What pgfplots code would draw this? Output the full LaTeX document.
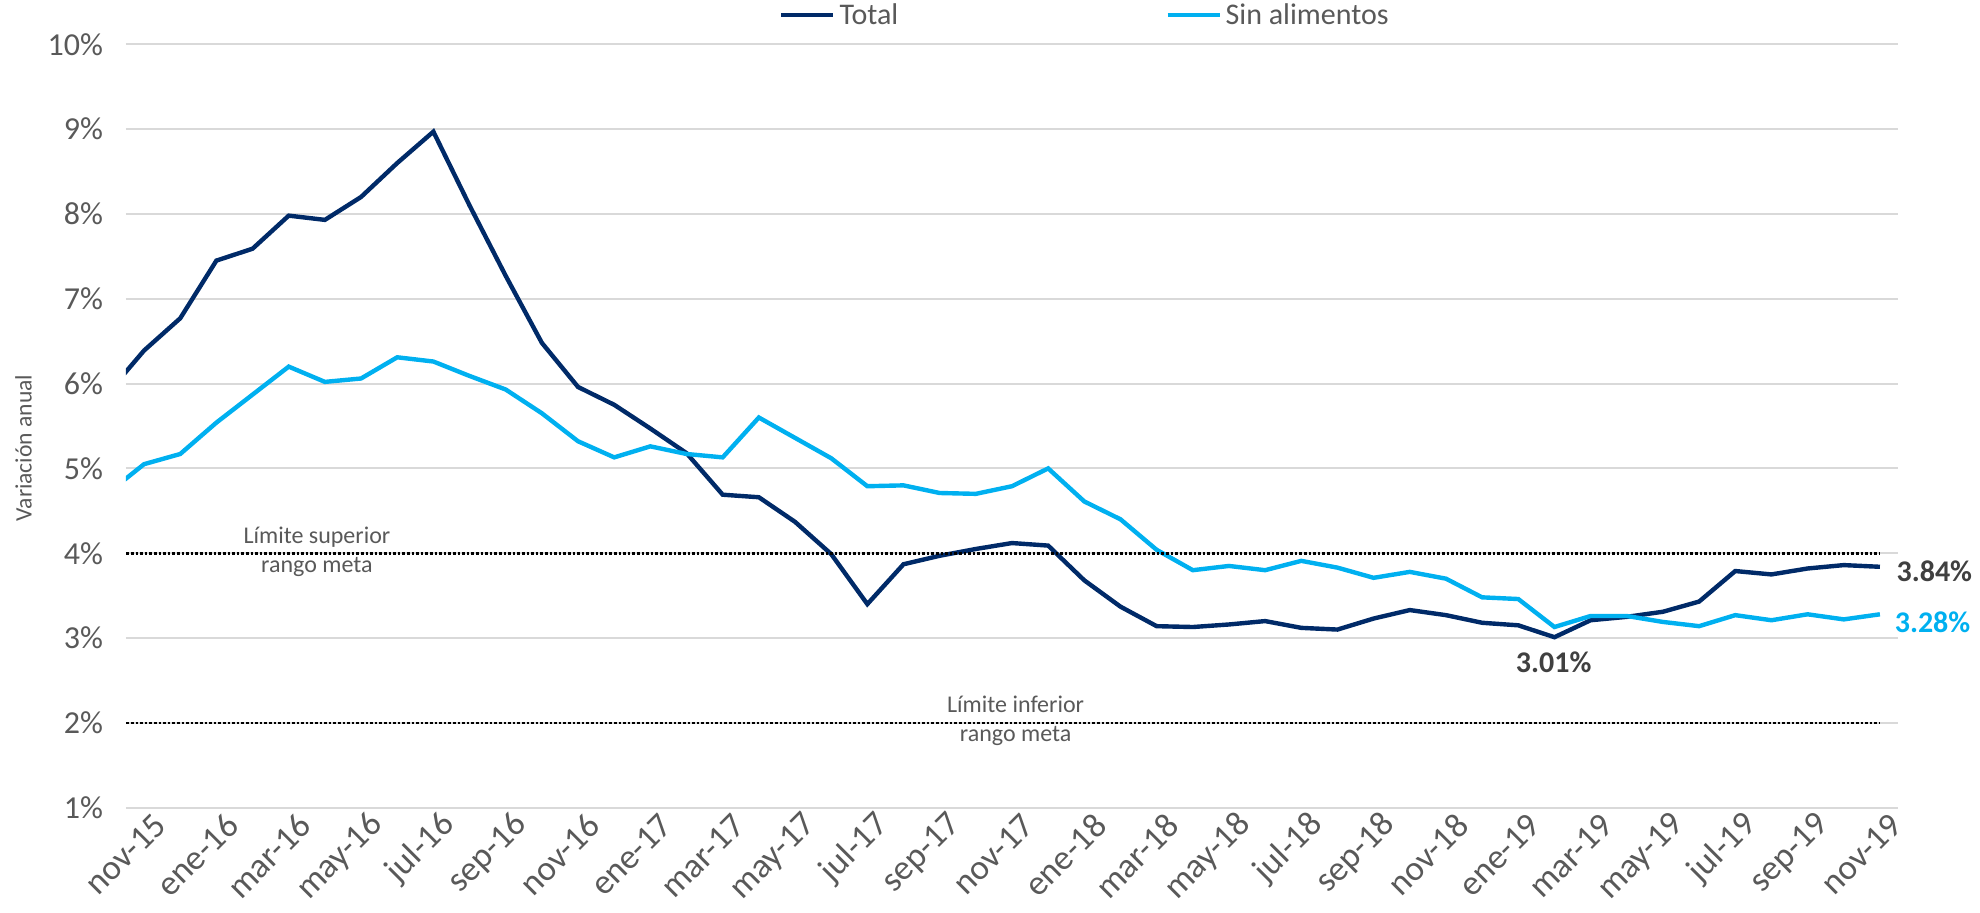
\documentclass[border=0pt]{standalone}
\usepackage{fontspec}
\setmainfont{Carlito}
\usepackage{pgfplots}
\pgfplotsset{compat=1.18}
\definecolor{navy}{RGB}{0,42,104}
\definecolor{sky}{RGB}{0,176,240}
\definecolor{txtgray}{RGB}{89,89,89}
\definecolor{lblgray}{RGB}{64,64,64}
\definecolor{gridgray}{RGB}{217,217,217}
\begin{document}
\begin{tikzpicture}
\begin{axis}[
    name=ax,
    scale only axis,
    width=886pt, height=381.7pt,
    xmin=-0.5, xmax=48.5, ymin=1, ymax=10,
    clip mode=individual,
    axis line style={draw=none},
    major tick length=0pt,
    ymajorgrids,
    grid style={gridgray, line width=1pt},
    ytick={1,...,10},
    yticklabels={1\%,2\%,3\%,4\%,5\%,6\%,7\%,8\%,9\%,10\%},
    xtick={0,2,...,48},
    xticklabels={nov-15,ene-16,mar-16,may-16,jul-16,sep-16,nov-16,ene-17,mar-17,may-17,jul-17,sep-17,nov-17,ene-18,mar-18,may-18,jul-18,sep-18,nov-18,ene-19,mar-19,may-19,jul-19,sep-19,nov-19},
    tick label style={color=txtgray},
    yticklabel style={font=\fontsize{16}{18}\selectfont, xshift=-8pt},
    xticklabel style={font=\fontsize{17.5}{19}\selectfont, rotate=45, anchor=east, yshift=-10pt, xshift=5pt},
    ylabel={Variación anual},
    ylabel style={font=\fontsize{11.8}{14}\selectfont, color=txtgray, xshift=-11pt, yshift=1pt},
    legend style={draw=none, fill=none, at={(0.365,1.038)}, anchor=west,
        font=\fontsize{15}{17}\selectfont, text=txtgray,
        legend columns=2,
        /tikz/every even column/.append style={column sep=131.5pt}},
    legend image code/.code={\draw[#1, line width=2.2pt] (0pt,0pt) -- (26pt,0pt);},
]
\addplot[navy, line width=2.2pt] coordinates {
(-1,5.89)(0,6.39)(1,6.77)(2,7.45)(3,7.59)(4,7.98)(5,7.93)(6,8.20)(7,8.60)(8,8.97)
(9,8.10)(10,7.27)(11,6.48)(12,5.96)(13,5.75)(14,5.47)(15,5.18)(16,4.69)(17,4.66)(18,4.37)
(19,3.99)(20,3.40)(21,3.87)(22,3.97)(23,4.05)(24,4.12)(25,4.09)(26,3.68)(27,3.37)(28,3.14)
(29,3.13)(30,3.16)(31,3.20)(32,3.12)(33,3.10)(34,3.23)(35,3.33)(36,3.27)(37,3.18)(38,3.15)
(39,3.01)(40,3.21)(41,3.25)(42,3.31)(43,3.43)(44,3.79)(45,3.75)(46,3.82)(47,3.86)(48,3.84)
};
\addlegendentry{Total}
\addplot[sky, line width=2.2pt] coordinates {
(-1,4.71)(0,5.05)(1,5.17)(2,5.54)(3,5.87)(4,6.20)(5,6.02)(6,6.06)(7,6.31)(8,6.26)
(9,6.09)(10,5.93)(11,5.65)(12,5.32)(13,5.13)(14,5.26)(15,5.17)(16,5.13)(17,5.60)(18,5.36)
(19,5.12)(20,4.79)(21,4.80)(22,4.71)(23,4.70)(24,4.79)(25,5.00)(26,4.61)(27,4.40)(28,4.04)
(29,3.80)(30,3.85)(31,3.80)(32,3.91)(33,3.83)(34,3.71)(35,3.78)(36,3.70)(37,3.48)(38,3.46)
(39,3.13)(40,3.26)(41,3.26)(42,3.19)(43,3.14)(44,3.27)(45,3.21)(46,3.28)(47,3.22)(48,3.28)
};
\addlegendentry{Sin alimentos}
% limites del rango meta
\addplot[black, line width=1.3pt, densely dotted, forget plot] coordinates {(-1,4)(48,4)};
\addplot[black, line width=1.3pt, densely dotted, forget plot] coordinates {(-1,2)(48,2)};
\node[align=center, font=\fontsize{12}{14.5}\selectfont, text=txtgray] at (axis cs:4.78,4.02) {Límite superior\\rango meta};
\node[align=center, font=\fontsize{12}{14.5}\selectfont, text=txtgray] at (axis cs:24.1,2.03) {Límite inferior\\rango meta};
\node[anchor=west, inner sep=0pt, font=\bfseries\fontsize{15}{17}\selectfont, text=lblgray] at (axis cs:48.45,3.79) {3.84\%};
\node[anchor=west, inner sep=0pt, font=\bfseries\fontsize{15}{17}\selectfont, text=sky] at (axis cs:48.4,3.19) {3.28\%};
\node[inner sep=0pt, font=\bfseries\fontsize{15}{17}\selectfont, text=lblgray] at (axis cs:38.98,2.72) {3.01\%};
\end{axis}
\pgfresetboundingbox
\path[use as bounding box] (ax.south west) ++(-63pt,-52.65pt) rectangle ++(990pt,456.5pt);
\end{tikzpicture}
\end{document}
